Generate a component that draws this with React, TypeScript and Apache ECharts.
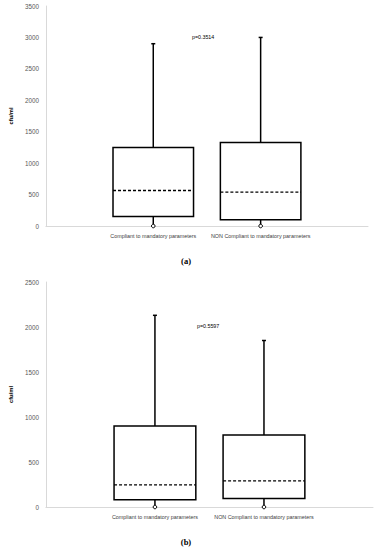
import React, { useEffect, useRef } from "react";
import * as echarts from "echarts";

// Categories (padded with empty slots so the two boxes sit at 1/3 and 2/3 of the axis)
const categories = ["", "Compliant to mandatory parameters", "NON Compliant to mandatory parameters", ""];

// Panel (a): [min, Q1, median, Q3, max]
const boxA1 = [0, 150, 565, 1250, 2900];
const boxA2 = [0, 100, 540, 1330, 3000];
// Panel (b)
const boxB1 = [0, 80, 245, 900, 2130];
const boxB2 = [0, 95, 290, 800, 1850];

const pValueA = "p=0.3514";
const pValueB = "p=0.5597";
const yMaxA = 3500;
const yMaxB = 2500;
const yStep = 500;

const FONT = "Liberation Sans";

function renderBox(params: any, api: any) {
  const x = api.value(0);
  const pMin = api.coord([x, api.value(1)]);
  const pQ1 = api.coord([x, api.value(2)]);
  const pMed = api.coord([x, api.value(3)]);
  const pQ3 = api.coord([x, api.value(4)]);
  const pMax = api.coord([x, api.value(5)]);
  const w = api.size([1, 0])[0] * 0.75;
  const cx = pMax[0];
  const st = { stroke: "#000", lineWidth: 1.5, fill: "none" };
  return {
    type: "group",
    children: [
      { type: "line", shape: { x1: cx, y1: pMax[1], x2: cx, y2: pQ3[1] }, style: st },
      { type: "line", shape: { x1: cx - 2, y1: pMax[1], x2: cx + 2, y2: pMax[1] }, style: st },
      { type: "rect", shape: { x: cx - w / 2, y: pQ3[1], width: w, height: pQ1[1] - pQ3[1] }, style: { ...st, fill: "#fff" } },
      { type: "line", shape: { x1: cx - w / 2, y1: pMed[1], x2: cx + w / 2, y2: pMed[1] }, style: { stroke: "#000", lineWidth: 1.3, lineDash: [3, 2] } },
      { type: "line", shape: { x1: cx, y1: pQ1[1], x2: cx, y2: pMin[1] }, style: st },
      { type: "circle", shape: { cx, cy: pMin[1], r: 1.8 }, style: { fill: "#fff", stroke: "#000", lineWidth: 1 } },
    ],
  };
}

function toData(b1: number[], b2: number[]) {
  return [[1, ...b1], [2, ...b2]];
}

function xAxisCfg(gridIndex: number) {
  return {
    type: "category",
    gridIndex,
    data: categories,
    boundaryGap: false,
    axisLine: { show: true, lineStyle: { color: "#d9d9d9", width: 1 } },
    axisTick: { show: false },
    axisLabel: { interval: 0, margin: 7, fontSize: 5.4, color: "#404040", fontFamily: FONT },
    splitLine: { show: false },
  };
}

function yAxisCfg(gridIndex: number, max: number, gap: number) {
  return {
    type: "value",
    gridIndex,
    min: 0,
    max,
    interval: yStep,
    name: "cfu/ml",
    nameLocation: "middle",
    nameRotate: 90,
    nameGap: gap,
    nameTextStyle: { fontSize: 5.8, fontWeight: "bold", color: "#000", fontFamily: FONT },
    axisLine: { show: true, lineStyle: { color: "#d9d9d9", width: 1 } },
    axisTick: { show: false },
    axisLabel: { margin: 7, fontSize: 6.3, color: "#595959", fontFamily: FONT, formatter: (v: number) => String(v) },
    splitLine: { show: false },
  };
}

export default function App() {
  const ref = useRef<HTMLDivElement>(null);
  useEffect(() => {
    if (!ref.current) return;
    const chart = echarts.init(ref.current, null, { renderer: "svg" });
    chart.setOption({
      animation: false,
      backgroundColor: "#fff",
      grid: [
        { left: 40, right: 13, top: 6, bottom: 324 },
        { left: 36, right: 8, top: 282, bottom: 43 },
      ],
      xAxis: [xAxisCfg(0), xAxisCfg(1)],
      yAxis: [yAxisCfg(0, yMaxA, 27), yAxisCfg(1, yMaxB, 26)],
      series: [
        { type: "custom", xAxisIndex: 0, yAxisIndex: 0, renderItem: renderBox, data: toData(boxA1, boxA2) },
        { type: "custom", xAxisIndex: 1, yAxisIndex: 1, renderItem: renderBox, data: toData(boxB1, boxB2) },
      ],
      graphic: [
        { type: "text", x: 192, y: 34, style: { text: pValueA, fontSize: 5.3, fill: "#000", fontFamily: FONT } },
        { type: "text", x: 197, y: 323, style: { text: pValueB, fontSize: 5.3, fill: "#000", fontFamily: FONT } },
        { type: "text", x: 186, y: 261, style: { text: "(a)", fontSize: 8.5, fontWeight: "bold", fill: "#000", fontFamily: "Liberation Serif", align: "center", verticalAlign: "middle" } },
        { type: "text", x: 186, y: 542, style: { text: "(b)", fontSize: 8.5, fontWeight: "bold", fill: "#000", fontFamily: "Liberation Serif", align: "center", verticalAlign: "middle" } },
      ],
    });
    return () => chart.dispose();
  }, []);
  return (
    <div
      ref={ref}
      style={{ position: "fixed", left: 0, top: 0, width: 381, height: 550, background: "#fff" }}
    />
  );
}
